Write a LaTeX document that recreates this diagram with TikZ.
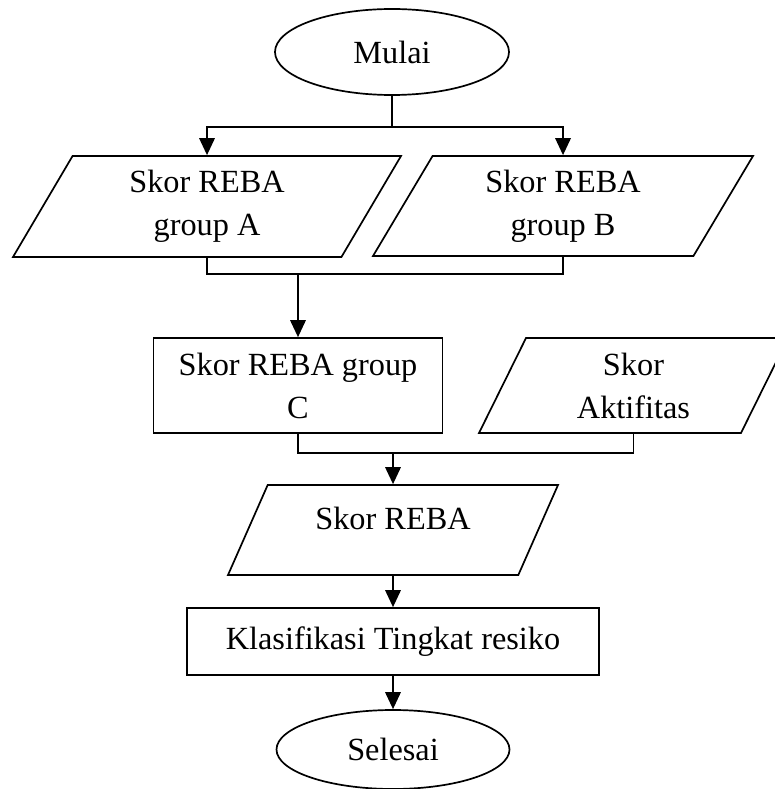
\documentclass[tikz,border=0pt]{standalone}
\usepackage{fontspec}
\setmainfont{Liberation Serif}
\usepackage{tikz}
\usetikzlibrary{shapes.geometric, arrows.meta, positioning, calc}
\tikzset{
    % Flowchart styles
    terminal/.style={
        ellipse,
        draw=black,
        fill=white,
        line width=1.7pt,
        inner sep=0pt,
        align=center,
        font=\fontsize{32.3}{43}\selectfont
    },
    process/.style={
        rectangle,
        draw=black,
        fill=white,
        line width=1.7pt,
        align=center,
        font=\fontsize{32.3}{43}\selectfont
    },
    data io/.style={
        trapezium,
        trapezium left angle=53,
        trapezium right angle=127,
        trapezium stretches body,
        draw=black,
        fill=white,
        line width=1.7pt,
        align=center,
        font=\fontsize{32.3}{43}\selectfont
    },
    line style/.style={
        line width=1.7pt,
        black
    },
    arrow style/.style={
        -{Triangle[length=17pt, width=15.5pt]},
        line width=1.7pt,
        black
    }
}
\begin{document}
\begin{tikzpicture}[x=1pt, y=-1pt]
        \useasboundingbox (0,0) rectangle (775,789);

        % Start
        \node[terminal, minimum width=234pt, minimum height=86pt] (mulai) at (392, 52) {Mulai};

        % Group A and B
        \node[data io, minimum width=388pt, minimum height=101pt] (grpA) at (207, 206.5) {
            Skor REBA\\
            group A
        };
        \node[data io, minimum width=380pt, minimum height=100pt] (grpB) at (563, 206) {
            Skor REBA\\
            group B
        };

        % Group C and activity
        \node[process, minimum width=289pt, minimum height=95pt] (grpC) at (298, 385.5) {
            Skor REBA group\\
            C
        };
        \node[data io, trapezium left angle=57, trapezium right angle=123, minimum width=309pt, minimum height=95pt] (aktif) at (633.5, 385.5) {
            Skor\\
            Aktifitas
        };

        % Final score
        \node[data io, minimum width=330pt, minimum height=90pt, text height=22pt, text depth=24pt] (reba) at (393, 530) {Skor REBA};
        \node[process, minimum width=412pt, minimum height=67pt] (klas) at (393, 641.5) {Klasifikasi Tingkat resiko};

        % End
        \node[terminal, minimum width=233pt, minimum height=79pt] (selesai) at (393, 749.5) {Selesai};

        % Arrows
        \draw[line style] (mulai.south) -- ++(0,31) coordinate (split);
        \draw[arrow style] (split) -| (grpA);
        \draw[arrow style] (split) -| (grpB);

        \draw[line style] (grpA.center |- grpA.south) -- ++(0,16) coordinate (joinAB) -| (grpB.center |- grpB.south);
        \draw[arrow style] (joinAB -| grpC) -- (grpC);

        \draw[line style] (grpC.south) -- ++(0,19) coordinate (joinCD) -| (aktif.center |- aktif.south);
        \draw[arrow style] (joinCD -| reba) -- (reba);

        \draw[arrow style] (reba) -- (klas);
        \draw[arrow style] (klas) -- (selesai);
    \end{tikzpicture}
\end{document}
